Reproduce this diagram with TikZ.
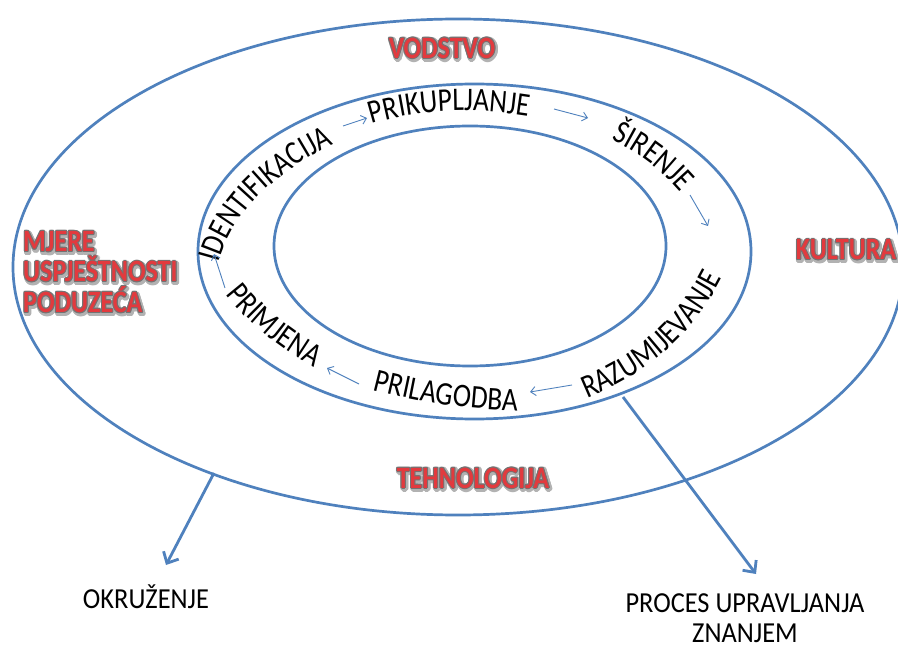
\documentclass[tikz,border=0pt]{standalone}
\usepackage{fontspec}
\setmainfont{Carlito}
\newfontfamily\ringfam{Carlito}[FakeStretch=0.83]
\newfontfamily\lblfam{Carlito}[FakeStretch=0.84]
\newfontfamily\plainfam{Carlito}[FakeStretch=0.91]
\usetikzlibrary{arrows.meta,decorations.text,calc}
\definecolor{ringblue}{RGB}{79,129,189}
\definecolor{lblred}{RGB}{226,58,62}
\newcommand{\ringfont}{\ringfam\fontsize{33}{36}\selectfont}
\newcommand{\redlabel}[4]{%
  \foreach \a in {0,30,...,330}{
    \node[redtxt,#2,text=black!30] (#1-g\a) at ($(#3)+(\a:2.2)+(1.3,-1.8)$) {#4};}
  \foreach \a in {0,45,...,315}{
    \node[redtxt,#2,text=black!55] (#1-o\a) at ($(#3)+(\a:1.0)$) {#4};}
  \node[redtxt,#2,text=lblred] (#1) at (#3) {#4};
}
\newcommand{\ringlabel}[2]{%
  \path[decorate,decoration={text along path,text={|\ringfont|#1},text align=left}] #2;
}
\tikzset{
  ring/.style={draw=ringblue,line width=2.7pt},
  bigarrow/.style={draw=ringblue,line width=2.8pt,-{Straight Barb[length=9pt,width=17pt]}},
  smallarrow/.style={draw=ringblue,line width=0.9pt,-{Straight Barb[length=5pt,width=9pt]}},
  redtxt/.style={inner sep=0pt,font=\lblfam\fontsize{31}{30.5}\selectfont\bfseries},
  plaintxt/.style={inner sep=0pt,font=\plainfam\fontsize{29}{29.5}\selectfont,text=black}
}
\begin{document}
\begin{tikzpicture}[x=1pt,y=1pt]
\useasboundingbox (0,0) rectangle (898,-647);
\fill[white] (0,0) rectangle (898,-647);
\begin{scope}
\clip (0,0) rectangle (898,-647);
% ellipses
\draw[ring] (458,-267) ellipse [x radius=445, y radius=248];
\draw[ring] (474.5,-251.5) ellipse [x radius=276.5, y radius=167.5];
\draw[ring] (470,-246) ellipse [x radius=196, y radius=120];
\end{scope}

% ring labels (curved)
\ringlabel{IDENTIFIKACIJA}{(219,-263) .. controls (231,-215) and (275,-168) .. (352,-136)}
\ringlabel{PRIKUPLJANJE}{(372,-124) .. controls (420,-109) and (480,-106) .. (545,-119)}
\ringlabel{ŠIRENJE}{(611,-140) .. controls (640,-153) and (668,-173) .. (696,-212)}
\ringlabel{RAZUMIJEVANJE}{(587,-398) .. controls (650,-372) and (705,-330) .. (736,-245)}
\ringlabel{PRILAGODBA}{(373,-390) .. controls (420,-402) and (470,-411) .. (535,-411)}
\ringlabel{PRIMJENA}{(226,-294) .. controls (250,-325) and (282,-352) .. (336,-379)}

% small cycle arrows
\coordinate (a1s) at (343,-126); \coordinate (a1e) at (367,-118);
\coordinate (a2s) at (554,-109); \coordinate (a2e) at (588,-118);
\coordinate (a3s) at (690,-195); \coordinate (a3e) at (708,-226);
\coordinate (a4s) at (572,-385); \coordinate (a4e) at (530,-392);
\coordinate (a5s) at (359,-384); \coordinate (a5e) at (327,-368);
\coordinate (a6s) at (225,-288); \coordinate (a6e) at (214,-254);
\draw[smallarrow] (a1s) -- (a1e);
\draw[smallarrow] (a2s) -- (a2e);
\draw[smallarrow] (a3s) -- (a3e);
\draw[smallarrow] (a4s) -- (a4e);
\draw[smallarrow] (a5s) -- (a5e);
\draw[smallarrow] (a6s) -- (a6e);

% red labels
\redlabel{vod}{}{442,-48}{VODSTVO}
\redlabel{kul}{}{846,-250}{KULTURA}
\redlabel{teh}{}{473,-478}{TEHNOLOGIJA}
\redlabel{mje}{anchor=west,align=left}{23,-272}{MJERE\\USPJEŠTNOSTI\\PODUZEĆA}

% bottom labels
\node[plaintxt] (okr) at (146,-597) {OKRUŽENJE};
\node[plaintxt,align=center] (proc) at (745,-618) {PROCES UPRAVLJANJA\\ZNANJEM};

% big arrows
\coordinate (outerpt) at (214,-473);
\coordinate (okrtip) at (166,-565);
\coordinate (procpt) at (623,-397);
\coordinate (proctip) at (756,-574);
\draw[bigarrow] (outerpt) -- (okrtip);
\draw[bigarrow] (procpt) -- (proctip);
\end{tikzpicture}
\end{document}
